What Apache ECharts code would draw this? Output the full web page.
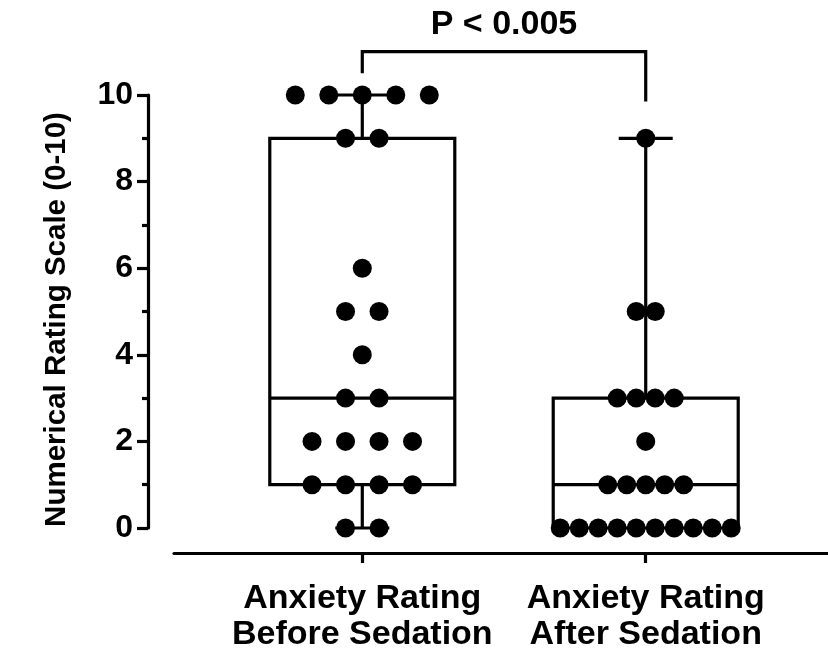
<!DOCTYPE html>
<html>
<head>
<meta charset="utf-8">
<script src="https://cdn.jsdelivr.net/npm/echarts@6/dist/echarts.min.js"></script>
<style>html,body{margin:0;padding:0;background:#fff}#c{width:828px;height:659px}</style>
</head>
<body>
<div id="c"></div>
<script>
// ---- data ----
var categories = ['Anxiety Rating\nBefore Sedation', 'Anxiety Rating\nAfter Sedation'];
var beforeValues = [10,10,10,10,10, 9,9, 6, 5,5, 4, 3,3, 2,2,2,2, 1,1,1,1, 0,0];
var afterValues  = [9, 5,5, 3,3,3,3, 2, 1,1,1,1,1, 0,0,0,0,0,0,0,0,0,0];
// box stats: [category index, min, Q1, median, Q3, max]
var boxStats = [
  [0, 0, 1, 3, 9, 10],
  [1, 0, 0, 1, 3, 9]
];
var yTicks = [0, 2, 4, 6, 8, 10];
var pText = 'P < 0.005';
var bracketLevels = [10.5, 11, 9.85]; // left end, top, right end

// ---- styles ----
var FONT = "'Liberation Sans', Arial, sans-serif";
var BOX_W = 185, CAP_W = 54, LW = 3.2, DOT = 19;
var spacing = [33.5, 19];

function dots(values, cat) {
  var groups = {};
  values.forEach(function (v) { groups[v] = (groups[v] || 0) + 1; });
  var out = [];
  Object.keys(groups).forEach(function (k) {
    var n = groups[k];
    for (var i = 0; i < n; i++) {
      out.push({ value: [cat, +k], symbolOffset: [(i - (n - 1) / 2) * spacing[cat], 0] });
    }
  });
  return out;
}

var chart = echarts.init(document.getElementById('c'), null, { renderer: 'canvas' });
chart.setOption({
  animation: false,
  backgroundColor: '#fff',
  grid: { left: 174, right: 0, top: 95, bottom: 131, containLabel: false },
  xAxis: {
    type: 'value', min: -0.6643, max: 1.6431, offset: 25,
    axisLine: { show: true, onZero: false, lineStyle: { color: '#000', width: LW } },
    axisTick: { show: true, customValues: [0, 1], length: 10, lineStyle: { color: '#000', width: LW } },
    axisLabel: {
      show: true, customValues: [0, 1], margin: 28,
      formatter: function (v) { return categories[Math.round(v)]; },
      color: '#000', fontFamily: FONT, fontWeight: 'bold', fontSize: 34, lineHeight: 36
    },
    splitLine: { show: false }
  },
  yAxis: {
    type: 'value', min: 0, max: 10, interval: 2, offset: 26,
    axisLine: { show: true, onZero: false, lineStyle: { color: '#000', width: LW } },
    axisTick: { show: true, length: 11, lineStyle: { color: '#000', width: LW } },
    minorTick: { show: true, splitNumber: 2, length: 6, lineStyle: { color: '#000', width: LW } },
    axisLabel: {
      margin: 15, color: '#000', fontFamily: FONT, fontWeight: 'bold', fontSize: 32,
      formatter: function (v) { return yTicks.indexOf(v) >= 0 ? String(v) : ''; }
    },
    splitLine: { show: false }
  },
  graphic: [{
    type: 'text', x: 57, y: 319.5, rotation: Math.PI / 2,
    style: { text: 'Numerical Rating Scale (0-10)', font: 'bold 29.5px ' + FONT, fill: '#000', align: 'center', verticalAlign: 'middle' }
  }],
  series: [
    {
      type: 'custom', clip: false, z: 2,
      data: boxStats,
      renderItem: function (params, api) {
        var x = api.value(0);
        var c = function (i) { return api.coord([x, api.value(i)]); };
        var pMin = c(1), pQ1 = c(2), pMed = c(3), pQ3 = c(4), pMax = c(5);
        var cx = pMin[0], hw = BOX_W / 2, cw = CAP_W / 2;
        var ls = { stroke: '#000', lineWidth: LW, fill: 'none' };
        var children = [
          { type: 'rect', shape: { x: cx - hw, y: pQ3[1], width: BOX_W, height: pQ1[1] - pQ3[1] }, style: ls },
          { type: 'line', shape: { x1: cx - hw, y1: pMed[1], x2: cx + hw, y2: pMed[1] }, style: ls },
          { type: 'line', shape: { x1: cx, y1: pQ3[1], x2: cx, y2: pMax[1] }, style: ls },
          { type: 'line', shape: { x1: cx - cw, y1: pMax[1], x2: cx + cw, y2: pMax[1] }, style: ls }
        ];
        if (pMin[1] - pQ1[1] > 0.5) {
          children.push({ type: 'line', shape: { x1: cx, y1: pQ1[1], x2: cx, y2: pMin[1] }, style: ls });
          children.push({ type: 'line', shape: { x1: cx - cw, y1: pMin[1], x2: cx + cw, y2: pMin[1] }, style: ls });
        }
        return { type: 'group', children: children };
      }
    },
    {
      type: 'custom', clip: false, z: 2,
      data: [[0, 1]],
      renderItem: function (params, api) {
        var a = api.coord([api.value(0), bracketLevels[0]]);
        var b = api.coord([api.value(0), bracketLevels[1]]);
        var cc = api.coord([api.value(1), bracketLevels[1]]);
        var d = api.coord([api.value(1), bracketLevels[2]]);
        return {
          type: 'group', children: [
            { type: 'polyline', shape: { points: [a, b, cc, d] }, style: { stroke: '#000', lineWidth: LW, fill: 'none' } },
            { type: 'text', x: (b[0] + cc[0]) / 2, y: b[1] - 27,
              style: { text: pText, font: 'bold 34px ' + FONT, fill: '#000', align: 'center', verticalAlign: 'middle' } }
          ]
        };
      }
    },
    {
      type: 'scatter', clip: false, z: 5, symbol: 'circle', symbolSize: DOT,
      itemStyle: { color: '#000', opacity: 1 },
      emphasis: { disabled: true },
      data: dots(beforeValues, 0).concat(dots(afterValues, 1))
    }
  ]
});
</script>
</body>
</html>
